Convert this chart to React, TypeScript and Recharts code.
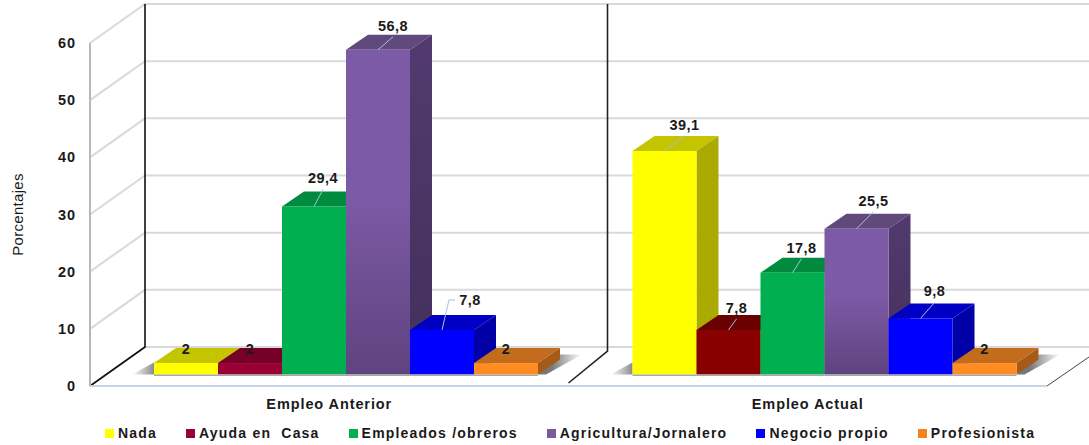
import { BarChart, Bar, XAxis, YAxis, CartesianGrid, Legend, LabelList, usePlotArea } from 'recharts';

const FONT = '"Liberation Sans", Arial, sans-serif';

const categories = ['Empleo Anterior', 'Empleo Actual'];
const nada = [2, 39.1];
const ayuda = [2, 7.8];
const empleados = [29.4, 17.8];
const agricultura = [56.8, 25.5];
const negocio = [7.8, 9.8];
const profesionista = [2, 2];
const yTicks = [0, 10, 20, 30, 40, 50, 60];

const data = categories.map((name, i) => ({
  name,
  nada: nada[i],
  ayuda: ayuda[i],
  empleados: empleados[i],
  agricultura: agricultura[i],
  negocio: negocio[i],
  profesionista: profesionista[i],
}));

// 3D look: wall depth, bar depth and how far the bars sit in from the front of the floor
const WALL_DX = 55;
const WALL_DY = -39;
const BAR_DX = 22;
const BAR_DY = -15;
const SHIFT_X = 17;
const SHIFT_Y = -11.5;

type Look = { front: string; top: string; side: string };

// label nudges from bar centre / bar top, one per category; third item = elbow on the leader
const nudges: Record<string, [number, number, boolean?][]> = {
  nada: [[0, -14], [20, -26]],
  ayuda: [[0, -14], [8, -22]],
  empleados: [[9, -28], [9, -25]],
  agricultura: [[15, -24], [17, -28]],
  negocio: [[28, -30, true], [14, -27]],
  profesionista: [[0, -14], [0, -14]],
};

function Bar3D(props: any) {
  const { x, y, width, height, look, looks, index, shadow } = props;
  const c: Look = looks ? looks[index] : look;
  const l = x + SHIFT_X;
  const t = y + SHIFT_Y;
  const r = l + width;
  const b = t + height;
  return (
    <g>
      {shadow === 'left' && (
        <polygon points={`${l},${b - 12} ${l},${b} ${l - 22},${b}`} fill="url(#shadowLeft)" />
      )}
      {shadow === 'right' && (
        <polygon
          points={`${r + BAR_DX},${b - 20} ${r + BAR_DX + 22},${b - 20} ${r + 8},${b} ${r},${b}`}
          fill="url(#shadowRight)"
        />
      )}
      <polygon points={`${l},${t} ${l + BAR_DX},${t + BAR_DY} ${r + BAR_DX},${t + BAR_DY} ${r},${t}`} fill={c.top} />
      <polygon points={`${r},${t} ${r + BAR_DX},${t + BAR_DY} ${r + BAR_DX},${b + BAR_DY} ${r},${b}`} fill={c.side} />
      <rect x={l} y={t} width={width} height={height} fill={c.front} />
      <rect x={l} y={b} width={width} height={1.5} fill="#a8a8a8" />
    </g>
  );
}

const makeLabel = (key: string) => (props: any) => {
  const { x, y, width, value, index } = props;
  const [dx, dy, elbow] = nudges[key][index];
  const cx = x + SHIFT_X + width / 2;
  const top = y + SHIFT_Y;
  const tx = cx + dx;
  const ty = top + dy;
  return (
    <g>
      {dy < -20 && (
        <polyline
          points={
            elbow
              ? `${cx},${top} ${cx + 7},${ty} ${cx + 13},${ty}`
              : `${cx},${top} ${tx},${ty + 11}`
          }
          fill="none"
          stroke="#a6c0e0"
          strokeWidth={1}
        />
      )}
      <text
        x={tx}
        y={ty + 5}
        textAnchor="middle"
        fontFamily={FONT}
        fontSize={14.5}
        fontWeight="bold"
        letterSpacing={0.5}
        fill="#1a1a1a"
      >
        {String(value).replace('.', ',')}
      </text>
    </g>
  );
};

function GridLine(props: any) {
  const { x1, y1 } = props;
  return (
    <polyline
      points={`${x1},${y1} ${x1 + WALL_DX},${y1 + WALL_DY} 1089,${y1 + WALL_DY}`}
      fill="none"
      stroke="#d9d9d9"
      strokeWidth={2}
    />
  );
}

function Walls() {
  const plot = usePlotArea();
  if (!plot) return null;
  const { x, y, width, height } = plot;
  const bottom = y + height;
  const mid = x + width / 2;
  const right = x + width;
  return (
    <g fill="none">
      <polyline
        points={`${x + WALL_DX},${y + WALL_DY} ${x + WALL_DX},${bottom + WALL_DY} ${x},${bottom}`}
        stroke="#111"
        strokeWidth={1.6}
      />
      <polyline
        points={`${mid + 39},${y + WALL_DY} ${mid + 39},${bottom + WALL_DY + 4} ${mid},${bottom - 3}`}
        stroke="#222"
        strokeWidth={1.6}
      />
      <line x1={right} y1={bottom} x2={right + 42} y2={bottom - 29} stroke="#444" strokeWidth={1} />
    </g>
  );
}

function LegendRow(props: any) {
  return (
    <div style={{ display: 'flex', paddingLeft: 105, paddingTop: 4, fontFamily: FONT, fontSize: 14, fontWeight: 'bold', color: '#1a1a1a', letterSpacing: 1.2 }}>
      {(props.payload || []).map((item: any) => (
        <div key={item.value} style={{ display: 'flex', alignItems: 'center', marginRight: 29, whiteSpace: 'pre' }}>
          <span style={{ width: 9, height: 9, background: item.color, marginRight: 4 }} />
          {item.value}
        </div>
      ))}
    </div>
  );
}

const looks: Record<string, Look> = {
  nada: { front: '#ffff00', top: '#c4c400', side: '#aaaa00' },
  empleados: { front: '#00b050', top: '#008a3e', side: '#007a36' },
  agricultura: { front: 'url(#purpleFront)', top: '#604a7b', side: 'url(#purpleSide)' },
  negocio: { front: '#0000ff', top: '#0000c4', side: '#0000a6' },
  profesionista: { front: '#ff8c22', top: '#c46c1e', side: '#a55a18' },
};

// the crimson bar turns darker red in the second group
const ayudaLooks: Look[] = [
  { front: '#990033', top: '#770027', side: '#660022' },
  { front: '#880000', top: '#6a0000', side: '#5a0000' },
];

const tickStyle = { fontFamily: FONT, fontSize: 14.5, fontWeight: 'bold', fill: '#1a1a1a', letterSpacing: 0.9 };

export default function App() {
  return (
    <div style={{ position: 'absolute', left: 0, top: 0, width: 1089, height: 445 }}>
      <BarChart
        width={1089}
        height={445}
        data={data}
        barSize={64}
        barGap={0}
        margin={{ top: 43, right: 42, bottom: 0, left: 0 }}
      >
        <defs>
          <linearGradient id="purpleFront" x1="0" y1="0" x2="0" y2="1">
            <stop offset="0.45" stopColor="#7d5aa6" />
            <stop offset="1" stopColor="#5f437f" />
          </linearGradient>
          <linearGradient id="purpleSide" x1="0" y1="0" x2="0" y2="1">
            <stop offset="0" stopColor="#523a6e" />
            <stop offset="1" stopColor="#42305c" />
          </linearGradient>
          <linearGradient id="shadowLeft" x1="0" y1="0" x2="1" y2="0">
            <stop offset="0" stopColor="#ffffff" />
            <stop offset="1" stopColor="#8c8c8c" />
          </linearGradient>
          <linearGradient id="shadowRight" x1="0" y1="0" x2="1" y2="0">
            <stop offset="0.3" stopColor="#777777" />
            <stop offset="1" stopColor="#ffffff" />
          </linearGradient>
        </defs>
        <CartesianGrid vertical={false} horizontal={GridLine} />
        <Walls />
        <XAxis
          dataKey="name"
          height={35}
          interval={0}
          axisLine={{ stroke: '#c9d5e4', strokeWidth: 2 }}
          tickLine={false}
          tickMargin={7}
          tick={tickStyle}
        />
        <YAxis
          width={90}
          domain={[0, 60]}
          ticks={yTicks}
          interval={0}
          axisLine={{ stroke: '#b8b8b8', strokeWidth: 2 }}
          tickLine={false}
          tickMargin={8}
          tick={tickStyle}
          label={{ value: 'Porcentajes', angle: -90, position: 'insideLeft', offset: 18, style: { fontFamily: FONT, fontSize: 15, letterSpacing: 0.3, fill: '#1a1a1a', textAnchor: 'middle' } }}
        />
        <Legend height={24} verticalAlign="bottom" itemSorter={null} content={<LegendRow />} />
        <Bar dataKey="nada" name="Nada" fill="#ffff00" isAnimationActive={false} shape={(p: any) => <Bar3D {...p} look={looks.nada} shadow="left" />}>
          <LabelList dataKey="nada" content={makeLabel('nada')} />
        </Bar>
        <Bar dataKey="ayuda" name="Ayuda en  Casa" fill="#990033" isAnimationActive={false} shape={(p: any) => <Bar3D {...p} looks={ayudaLooks} />}>
          <LabelList dataKey="ayuda" content={makeLabel('ayuda')} />
        </Bar>
        <Bar dataKey="empleados" name="Empleados /obreros" fill="#00b050" isAnimationActive={false} shape={(p: any) => <Bar3D {...p} look={looks.empleados} />}>
          <LabelList dataKey="empleados" content={makeLabel('empleados')} />
        </Bar>
        <Bar dataKey="agricultura" name="Agricultura/Jornalero" fill="#7a5a9c" isAnimationActive={false} shape={(p: any) => <Bar3D {...p} look={looks.agricultura} />}>
          <LabelList dataKey="agricultura" content={makeLabel('agricultura')} />
        </Bar>
        <Bar dataKey="negocio" name="Negocio propio" fill="#0000ff" isAnimationActive={false} shape={(p: any) => <Bar3D {...p} look={looks.negocio} />}>
          <LabelList dataKey="negocio" content={makeLabel('negocio')} />
        </Bar>
        <Bar dataKey="profesionista" name="Profesionista" fill="#f58220" isAnimationActive={false} shape={(p: any) => <Bar3D {...p} look={looks.profesionista} shadow="right" />}>
          <LabelList dataKey="profesionista" content={makeLabel('profesionista')} />
        </Bar>
      </BarChart>
    </div>
  );
}
